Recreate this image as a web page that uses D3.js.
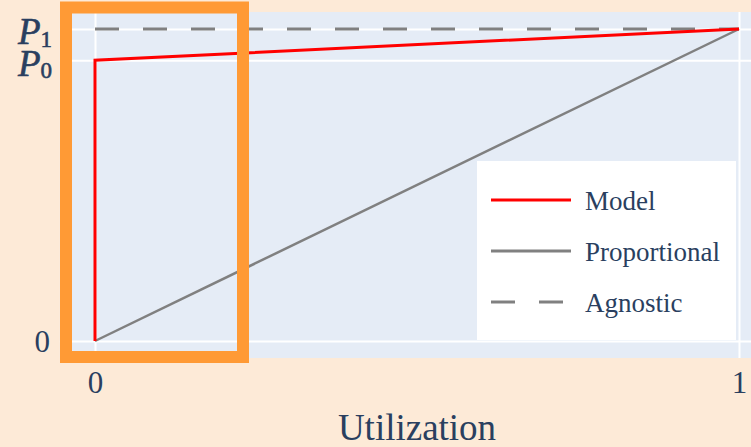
<!DOCTYPE html>
<html>
<head>
<meta charset="utf-8">
<script src="https://cdn.jsdelivr.net/npm/d3@7"></script>
<style>
  body { margin: 0; background: #fdead7; }
  svg { display: block; }
</style>
</head>
<body>
<div id="chart"></div>
<script>
// Input Data
var P0 = 0.9, P1 = 1
var utilization = [0, 1]
var modelX = [0, 0, 1]
var modelY = [0, P0, P1]
var proportionalY = [0, P1]
var agnosticY = [P1, P1]
var yTickValues = [0, P0, P1]
var yTickLabels = [["0", ""], ["P", "0"], ["P", "1"]]
var xTickLabels = ["0", "1"]
var seriesNames = ["Model", "Proportional", "Agnostic"]

var width = 751, height = 447
var fontStack = "'Liberation Serif', 'Times New Roman', serif"
var textColor = "#2a3f5f"

var svg = d3.select("#chart")
      .append("svg")
      .attr("width", width)
      .attr("height", height)

svg.append("rect")
      .attr("width", width).attr("height", height)
      .attr("fill", "#fdead7")

// Specify the scales
var xScale = d3.scaleLinear().domain([0, 1]).range([95, 739])
var yScale = d3.scaleLinear().domain([0, 1]).range([341, 29])
var pad = 0.0545

// plot area
svg.append("rect")
      .attr("x", xScale(-pad))
      .attr("y", yScale(1 + pad))
      .attr("width", xScale(1 + pad) - xScale(-pad))
      .attr("height", yScale(-pad) - yScale(1 + pad))
      .attr("fill", "#e5ecf6")

// grid lines
var gx = svg.append("g")
      .attr("transform", "translate(0," + yScale(-pad) + ")")
      .call(d3.axisBottom(xScale)
            .tickValues(utilization)
            .tickSize(-(yScale(-pad) - yScale(1 + pad)))
            .tickFormat(""))
gx.select(".domain").remove()
gx.selectAll("line").attr("stroke", "white").attr("stroke-width", 2)

var gy = svg.append("g")
      .attr("transform", "translate(" + xScale(-pad) + ",0)")
      .call(d3.axisLeft(yScale)
            .tickValues(yTickValues)
            .tickSize(-(xScale(1 + pad) - xScale(-pad)))
            .tickFormat(""))
gy.select(".domain").remove()
gy.selectAll("line").attr("stroke", "white").attr("stroke-width", 2)

// Add Lines
var line = d3.line()
      .x(function (d) { return xScale(d[0]) })
      .y(function (d) { return yScale(d[1]) })

svg.append("path")
      .datum(utilization.map(function (u, i) { return [u, proportionalY[i]] }))
      .attr("d", line)
      .attr("fill", "none")
      .attr("stroke", "grey")
      .attr("stroke-width", 2.5)

svg.append("path")
      .datum(utilization.map(function (u, i) { return [u, agnosticY[i]] }))
      .attr("d", line)
      .attr("fill", "none")
      .attr("stroke", "grey")
      .attr("stroke-width", 3)
      .attr("stroke-dasharray", "24,24")

svg.append("path")
      .datum(modelX.map(function (u, i) { return [u, modelY[i]] }))
      .attr("d", line)
      .attr("fill", "none")
      .attr("stroke", "red")
      .attr("stroke-width", 3)

// tick labels
var xAxis = svg.append("g")
      .attr("transform", "translate(0,368)")
      .call(d3.axisBottom(xScale)
            .tickValues(utilization)
            .tickSize(0)
            .tickFormat(function (d, i) { return xTickLabels[i] }))
xAxis.select(".domain").remove()
xAxis.selectAll("text")
      .attr("font-family", fontStack)
      .attr("font-size", 31)
      .attr("fill", textColor)

var yAxis = svg.append("g")
      .attr("transform", "translate(52,0)")
      .call(d3.axisLeft(yScale)
            .tickValues(yTickValues)
            .tickSize(0)
            .tickPadding(0)
            .tickFormat(""))
yAxis.select(".domain").remove()
yAxis.selectAll("text").each(function (d, i) {
      var t = d3.select(this)
            .attr("font-family", fontStack)
            .attr("fill", textColor)
            .attr("dy", null)
      var lab = yTickLabels[i]
      if (lab[1] === "") {
            t.attr("x", -2).attr("font-size", 31).attr("dy", "0.34em").text(lab[0])
      } else {
            t.attr("font-size", 37).attr("dy", "0.4em")
                  .attr("stroke", textColor).attr("stroke-width", 0.6)
            t.append("tspan").attr("font-style", "italic").text(lab[0])
            t.append("tspan").attr("font-size", 23).attr("dy", "0.12em").text(lab[1])
      }
})

// axis title
svg.append("text")
      .attr("x", 417)
      .attr("y", 440)
      .attr("text-anchor", "middle")
      .attr("font-family", fontStack)
      .attr("font-size", 37)
      .attr("fill", textColor)
      .text("Utilization")

// legend
var legend = svg.append("g")
legend.append("rect")
      .attr("x", 477).attr("y", 161)
      .attr("width", 259).attr("height", 179)
      .attr("fill", "white")

var legendStyles = [
      { color: "red", dash: null },
      { color: "grey", dash: null },
      { color: "grey", dash: "24,24" }
]
var legendY = d3.scalePoint().domain(seriesNames).range([200, 302])

seriesNames.forEach(function (name, i) {
      legend.append("line")
            .attr("x1", 491).attr("x2", 571)
            .attr("y1", legendY(name)).attr("y2", legendY(name))
            .attr("stroke", legendStyles[i].color)
            .attr("stroke-width", 3)
            .attr("stroke-dasharray", legendStyles[i].dash)
      legend.append("text")
            .attr("x", 585)
            .attr("y", legendY(name))
            .attr("dy", "0.37em")
            .attr("font-family", fontStack)
            .attr("font-size", 27)
            .attr("fill", textColor)
            .text(name)
})

// highlight box
svg.append("rect")
      .attr("x", 66).attr("y", 7.5)
      .attr("width", 177).attr("height", 349.5)
      .attr("fill", "none")
      .attr("stroke", "#ff9a35")
      .attr("stroke-width", 12)
</script>
</body>
</html>
